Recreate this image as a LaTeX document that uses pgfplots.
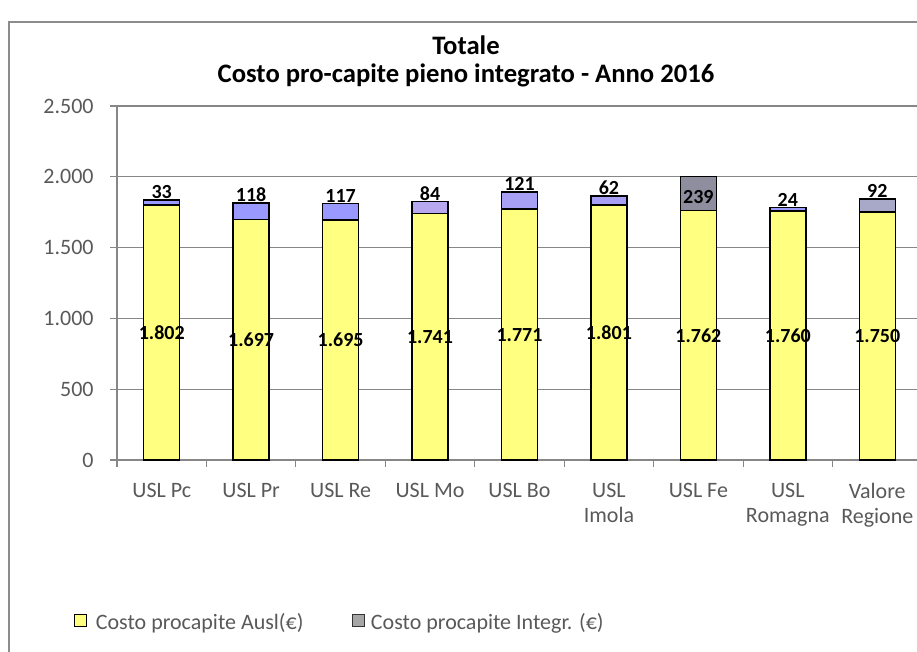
\documentclass[border=0pt]{standalone}
\usepackage{pgfplots}
\pgfplotsset{compat=1.18}
\usepackage{fontspec}
\setmainfont{Carlito}
\definecolor{ylw}{HTML}{FFFF80}
\definecolor{lavA}{HTML}{9999FF}
\definecolor{lavB}{HTML}{B8A8F0}
\definecolor{lavC}{HTML}{A8A0F4}
\definecolor{grayFe}{HTML}{8E8E9E}
\definecolor{grayVal}{HTML}{A8A8C8}
\definecolor{gridgray}{HTML}{878787}
\definecolor{bordergray}{HTML}{8C8C8C}
\definecolor{labgray}{HTML}{595959}
\definecolor{legtext}{HTML}{595959}
\pgfplotsset{
  topbar/.style={ybar, bar width=27pt, bar shift=0pt, fill=#1, draw=black, line width=1.1pt, forget plot,
    nodes near coords, point meta=explicit symbolic,
    every node near coord/.append style={font=\bfseries\fontsize{15}{18}\selectfont, text=black, anchor=south, yshift=-3pt}},
}
\begin{document}
\begin{tikzpicture}[x=0.75pt,y=0.75pt]
\useasboundingbox (-117,-192) rectangle (800,460);
\draw[color=bordergray, line width=0.9pt] (-108,438) rectangle (900,-260);
\node[font=\bfseries\fontsize{20}{24}\selectfont] at (349,415) {Totale};
\node[font=\bfseries\fontsize{20}{24}\selectfont] at (349,385) {Costo pro-capite pieno integrato - Anno 2016};
\begin{axis}[
  at={(0,0)}, anchor=south west, scale only axis,
  width=603.75pt, height=265.5pt,
  xmin=-0.5, xmax=8.5, ymin=0, ymax=2500,
  axis x line*=bottom, axis y line*=left,
  axis line style={color=gridgray, line width=0.9pt},
  ytick={0,500,1000,1500,2000,2500},
  yticklabels={0,500,1.000,1.500,2.000,2.500},
  xtick={0,1,2,3,4,5,6,7,8},
  xticklabels={USL Pc, USL Pr, USL Re, USL Mo, USL Bo, USL\\Imola, USL Fe, USL\\Romagna, Valore\\Regione},
  minor xtick={-0.5,0.5,1.5,2.5,3.5,4.5,5.5,6.5,7.5,8.5},
  major x tick style={draw=none},
  minor x tick style={color=gridgray, line width=0.9pt},
  minor tick length=5pt,
  ytick style={color=gridgray, line width=0.9pt},
  major tick length=5pt,
  tick align=outside,
  ymajorgrids, grid style={color=gridgray, line width=0.9pt},
  ticklabel style={font=\fontsize{16.5}{18.75}\selectfont, text=labgray},
  xticklabel style={align=center, yshift=-9pt},
  yticklabel style={xshift=-9pt},
  clip=false,
  legend style={at={(-0.0582,-0.458)}, anchor=west, draw=none, fill=none,
    font=\fontsize{16.5}{20}\selectfont, text=legtext, legend columns=2,
    /tikz/every even column/.append style={column sep=34pt}},
  legend cell align=left,
]
\addlegendimage{legend image code/.code={\draw[draw=black, fill=ylw, line width=0.8pt] (0pt,-3pt) rectangle (9pt,6pt); \path (0pt,0pt) (13.5pt,0pt);}}
\addlegendentry{Costo procapite Ausl(€)}
\addlegendimage{legend image code/.code={\draw[draw=black!80, fill=gray!70, line width=0.8pt] (0pt,-3pt) rectangle (9pt,6pt); \path (0pt,0pt) (12pt,0pt);}}
\addlegendentry{Costo procapite Integr. (€)}
% top segments (bar total = Ausl + Integr), label = Integr value
\addplot[topbar=lavA] coordinates {(0,1835) [33]};
\addplot[topbar=lavA] coordinates {(1,1815) [118]};
\addplot[topbar=lavA] coordinates {(2,1812) [117]};
\addplot[topbar=lavB] coordinates {(3,1825) [84]};
\addplot[topbar=lavC] coordinates {(4,1892) [121]};
\addplot[topbar=lavC] coordinates {(5,1863) [62]};
\addplot[topbar=grayFe, every node near coord/.append style={anchor=center, yshift=-12pt}] coordinates {(6,2001) [239]};
\addplot[topbar=lavA] coordinates {(7,1784) [24]};
\addplot[topbar=grayVal] coordinates {(8,1842) [92]};
% Ausl segment
\addplot[ybar, bar width=27pt, bar shift=0pt, fill=ylw, draw=black, line width=1.1pt, forget plot]
  coordinates {(0,1802) (1,1697) (2,1695) (3,1741) (4,1771) (5,1801) (6,1762) (7,1760) (8,1750)};
% Ausl labels at half height
\addplot[ybar, bar width=27pt, bar shift=0pt, draw=none, fill=none, forget plot,
  nodes near coords, point meta=explicit symbolic,
  every node near coord/.append style={font=\bfseries\fontsize{15}{18}\selectfont, text=black, anchor=center}]
  coordinates {(0,901)[1.802] (1,848.5)[1.697] (2,847.5)[1.695] (3,870.5)[1.741] (4,885.5)[1.771] (5,900.5)[1.801] (6,881)[1.762] (7,880)[1.760] (8,875)[1.750]};
\end{axis}
\end{tikzpicture}
\end{document}
